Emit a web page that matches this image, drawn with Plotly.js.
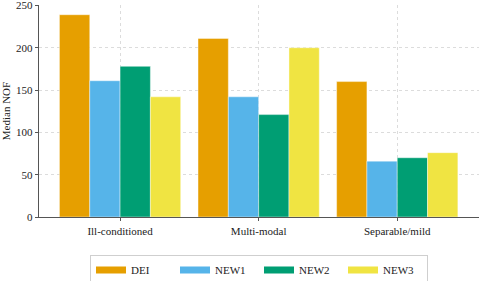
<!DOCTYPE html>
<html><head><meta charset="utf-8">
<script src="https://cdn.plot.ly/plotly-3.0.1.min.js"></script>
<style>html,body{margin:0;padding:0;background:#fff}</style>
</head><body><div id="chart" style="width:480px;height:281px"></div>
<script>
const categories = ["Ill-conditioned", "Multi-modal", "Separable/mild"];
const seriesNames = ["DEI", "NEW1", "NEW2", "NEW3"];
const DEI  = [239, 211, 160];
const NEW1 = [161, 142, 66];
const NEW2 = [178, 121, 70];
const NEW3 = [142, 200, 76];
const yTicks = [0, 50, 100, 150, 200, 250];
const colors = ["#E69F00", "#56B4E9", "#009E73", "#F0E442"];
const values = [DEI, NEW1, NEW2, NEW3];

const font = "Times New Roman, Liberation Serif, serif";
const traces = [];
values.forEach((v, i) => {
  traces.push({type: "bar", x: categories, y: v, name: seriesNames[i],
    marker: {color: colors[i], line: {color: "rgba(255,255,255,0.7)", width: 0.6}},
    showlegend: false, hoverinfo: "skip"});
});
values.forEach((v, i) => {
  traces.push({type: "scatter", mode: "lines", x: [null], y: [null], name: seriesNames[i],
    line: {color: colors[i], width: 7}, showlegend: true});
});

const layout = {
  width: 480, height: 281,
  margin: {l: 39, r: 1, t: 5, b: 64, autoexpand: false},
  paper_bgcolor: "#fff", plot_bgcolor: "#fff",
  font: {family: font, size: 11, color: "#222"},
  barmode: "group", bargap: 0.125, bargroupgap: 0,
  xaxis: {range: [-0.585, 2.59], showgrid: true, gridcolor: "#dcdcdc", griddash: "dot", gridwidth: 1,
    showline: true, linecolor: "#555", linewidth: 1.3, ticks: "outside", ticklen: 3, tickcolor: "#555",
    tickfont: {family: font, size: 11, color: "#222"}, zeroline: false, fixedrange: true},
  yaxis: {range: [0, 250.5], tickvals: yTicks, ticktext: yTicks.map(String), showgrid: true,
    gridcolor: "#dcdcdc", griddash: "dot", gridwidth: 1, showline: true, linecolor: "#555", linewidth: 1.3,
    ticks: "outside", ticklen: 3, tickcolor: "#555", zeroline: false, ticklabeloverflow: "allow",
    tickfont: {family: font, size: 11, color: "#222"},
    title: {text: "Median NOF", font: {family: font, size: 11, color: "#222"}, standoff: 8}},
  legend: {orientation: "h", x: 0.5, xanchor: "center", yref: "container", y: 0.094, yanchor: "top",
    bordercolor: "#cfcfcf", borderwidth: 1, bgcolor: "#fff",
    font: {family: font, size: 11, color: "#222"}, itemwidth: 30, tracegroupgap: 0,
    entrywidth: 39, entrywidthmode: "pixels"},
  showlegend: true
};
Plotly.newPlot("chart", traces, layout, {staticPlot: true, displayModeBar: false});
</script></body></html>
